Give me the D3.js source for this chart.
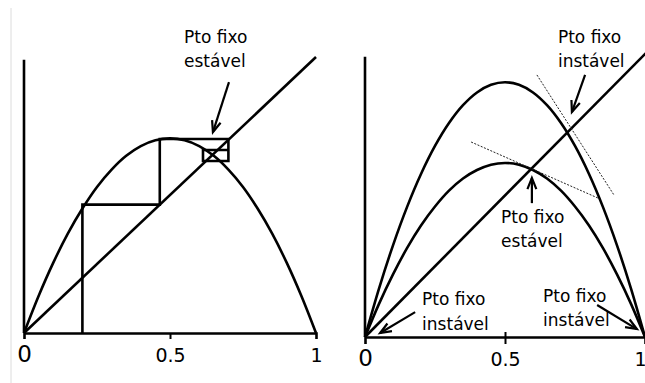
<!DOCTYPE html>
<html>
<head>
<meta charset="utf-8">
<script src="https://cdn.jsdelivr.net/npm/d3@7"></script>
<style>
  body { margin: 0; background: #fff; }
  svg { display: block; }
  text { font-family: "DejaVu Sans", sans-serif; fill: #000; }
</style>
</head>
<body>
<script>
// sampled x positions (0 .. 1, step 0.05)
var xs = [0, 0.05, 0.1, 0.15, 0.2, 0.25, 0.3, 0.35, 0.4, 0.45, 0.5,
          0.55, 0.6, 0.65, 0.7, 0.75, 0.8, 0.85, 0.9, 0.95, 1];

// left panel curve
var leftCurve = [0, 0.134, 0.254, 0.360, 0.451, 0.529, 0.592, 0.642, 0.677, 0.698, 0.705,
                 0.698, 0.677, 0.642, 0.592, 0.529, 0.451, 0.360, 0.254, 0.134, 0];

// cobweb path, left panel
var cobweb = [[0.2, 0], [0.2, 0.465], [0.465, 0.465], [0.465, 0.703], [0.7, 0.703],
              [0.7, 0.623], [0.613, 0.623], [0.613, 0.663], [0.7, 0.663]];

// right panel curves
var upperCurve = [0, 0.171, 0.324, 0.459, 0.576, 0.675, 0.756, 0.819, 0.864, 0.891, 0.9,
                  0.891, 0.864, 0.819, 0.756, 0.675, 0.576, 0.459, 0.324, 0.171, 0];
var lowerCurve = [0, 0.117, 0.221, 0.314, 0.394, 0.461, 0.517, 0.560, 0.590, 0.609, 0.615,
                  0.609, 0.590, 0.560, 0.517, 0.461, 0.394, 0.314, 0.221, 0.117, 0];

// tangent (dotted) lines, right panel
var tangents = [
  [[0.614, 0.926], [0.889, 0.502]],
  [[0.379, 0.689], [0.832, 0.491]]
];

var tickLabels = ["0", "0.5", "1"];
var tickValues = [0, 0.5, 1];

// annotations: label lines, label anchor, arrow tail -> tip (data coords)
var leftNotes = [
  { lines: ["Pto fixo", "estável"], at: [0.548, 1.051], from: [0.702, 0.909], to: [0.647, 0.728] }
];
var rightNotes = [
  { lines: ["Pto fixo", "instável"], at: [0.689, 1.039], from: [0.786, 0.926], to: [0.739, 0.795] },
  { lines: ["Pto fixo", "estável"], at: [0.486, 0.403], from: [0.596, 0.473], to: [0.596, 0.562] },
  { lines: ["Pto fixo", "instável"], at: [0.204, 0.113], from: [0.179, 0.088], to: [0.054, 0.014] },
  { lines: ["Pto fixo", "instável"], at: [0.636, 0.124], from: [0.829, 0.113], to: [0.971, 0.028] }
];

var W = 645, H = 383;
var svg = d3.select("body").append("svg")
  .attr("width", W)
  .attr("height", H);

// faint frame line on the left edge
svg.append("line")
  .attr("x1", 11).attr("x2", 11)
  .attr("y1", 8).attr("y2", H)
  .attr("stroke", "#dcdcdc")
  .attr("stroke-width", 1);

function arrow(g, x, y, a) {
  var x1 = x(a.from[0]), y1 = y(a.from[1]), x2 = x(a.to[0]), y2 = y(a.to[1]);
  g.append("line")
    .attr("x1", x1).attr("y1", y1).attr("x2", x2).attr("y2", y2)
    .attr("stroke", "#000").attr("stroke-width", 2.2);
  var ang = Math.atan2(y2 - y1, x2 - x1), len = 12, spread = 0.38;
  var head = [
    [x2 - len * Math.cos(ang - spread), y2 - len * Math.sin(ang - spread)],
    [x2, y2],
    [x2 - len * Math.cos(ang + spread), y2 - len * Math.sin(ang + spread)]
  ];
  g.append("path")
    .attr("d", d3.line()(head))
    .attr("fill", "none")
    .attr("stroke", "#000").attr("stroke-width", 2.2)
    .attr("stroke-linejoin", "miter");
}

function note(g, x, y, n) {
  var t = g.append("text")
    .attr("x", x(n.at[0]))
    .attr("y", y(n.at[1]))
    .style("font-size", "17px");
  n.lines.forEach(function (s, i) {
    t.append("tspan")
      .attr("x", x(n.at[0]))
      .attr("dy", i === 0 ? 0 : 24.5)
      .text(s);
  });
  arrow(g, x, y, n);
}

function drawAxes(g, x, y, tickDown, tickUp, zeroSize, lastEnd) {
  // y axis (plain vertical line)
  g.append("line")
    .attr("x1", x(0)).attr("x2", x(0))
    .attr("y1", y(0)).attr("y2", y(0.99))
    .attr("stroke", "#000").attr("stroke-width", 2.6);

  var ax = g.append("g")
    .attr("transform", "translate(0," + y(0) + ")")
    .call(d3.axisBottom(x).tickValues(tickValues).tickSizeOuter(0).tickSize(tickDown)
      .tickFormat(function (d, i) { return tickLabels[i]; }));
  ax.select(".domain").attr("stroke", "#000").attr("stroke-width", 2.6);
  ax.selectAll(".tick line")
    .attr("stroke", "#000").attr("stroke-width", 2)
    .attr("y1", -tickUp)
    .style("display", function (d) { return d === 0.5 ? null : "none"; });
  ax.selectAll(".tick text")
    .attr("y", 29).attr("dy", 0)
    .attr("font-family", null)
    .style("font-size", function (d) { return d === 0 ? zeroSize + "px" : "19px"; });
  if (lastEnd) {
    // keep the last label inside the page edge
    ax.selectAll(".tick text")
      .filter(function (d) { return d === 1; })
      .attr("x", 1)
      .attr("text-anchor", "end");
  }
}

var line = d3.line().curve(d3.curveCatmullRom);

// ---------- left panel ----------
var xl = d3.scaleLinear().domain([0, 1]).range([24, 316]);
var yl = d3.scaleLinear().domain([0, 1]).range([333, 57]);
var gl = svg.append("g");

drawAxes(gl, xl, yl, 6, 0, 23, false);

gl.append("path")
  .attr("d", line([[0, 0], [1, 1]].map(function (p) { return [xl(p[0]), yl(p[1])]; })))
  .attr("fill", "none").attr("stroke", "#000").attr("stroke-width", 2.6);

gl.append("path")
  .attr("d", line(xs.map(function (v, i) { return [xl(v), yl(leftCurve[i])]; })))
  .attr("fill", "none").attr("stroke", "#000").attr("stroke-width", 2.6);

gl.append("path")
  .attr("d", d3.line()(cobweb.map(function (p) { return [xl(p[0]), yl(p[1])]; })))
  .attr("fill", "none").attr("stroke", "#000").attr("stroke-width", 2.6)
  .attr("stroke-linejoin", "miter");

leftNotes.forEach(function (n) { note(gl, xl, yl, n); });

// ---------- right panel ----------
var xr = d3.scaleLinear().domain([0, 1]).range([365, 645]);
var yr = d3.scaleLinear().domain([0, 1]).range([337, 54]);
var gr = svg.append("g");

drawAxes(gr, xr, yr, 7, 5, 23, true);

gr.append("path")
  .attr("d", line([[0, 0], [1.01, 1.01]].map(function (p) { return [xr(p[0]), yr(p[1])]; })))
  .attr("fill", "none").attr("stroke", "#000").attr("stroke-width", 2.6);

[upperCurve, lowerCurve].forEach(function (c) {
  gr.append("path")
    .attr("d", line(xs.map(function (v, i) { return [xr(v), yr(c[i])]; })))
    .attr("fill", "none").attr("stroke", "#000").attr("stroke-width", 2.6);
});

tangents.forEach(function (t) {
  gr.append("line")
    .attr("x1", xr(t[0][0])).attr("y1", yr(t[0][1]))
    .attr("x2", xr(t[1][0])).attr("y2", yr(t[1][1]))
    .attr("stroke", "#222").attr("stroke-width", 1)
    .attr("stroke-dasharray", "2,1.5");
});

rightNotes.forEach(function (n) { note(gr, xr, yr, n); });
</script>
</body>
</html>
